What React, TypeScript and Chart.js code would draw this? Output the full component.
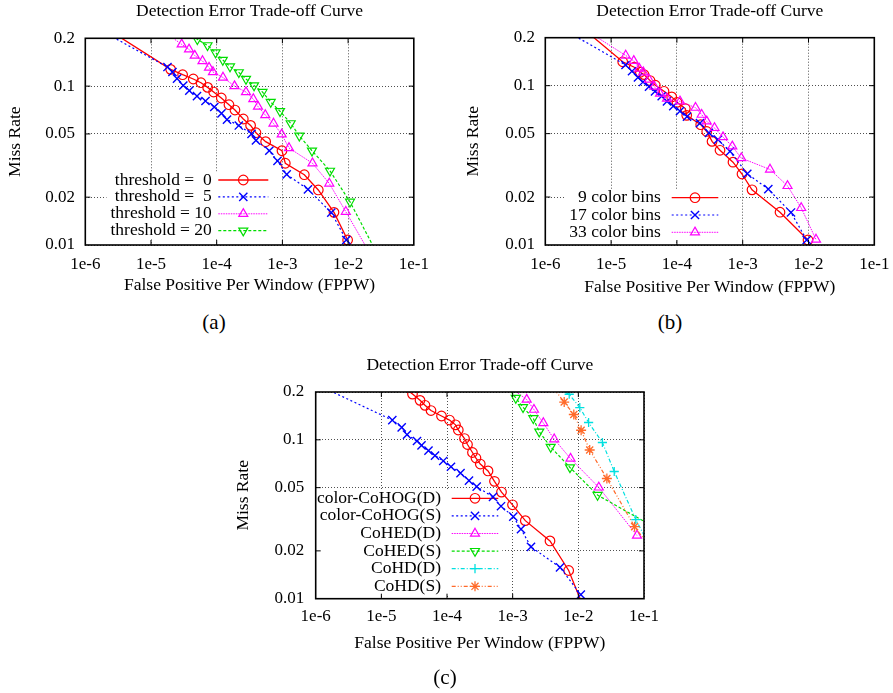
import React, { useEffect, useRef } from 'react';
import { Chart, registerables } from 'chart.js';

Chart.register(...registerables);

const FONT = 'Liberation Serif';

// ---------- shared axis text ----------
const titleText = 'Detection Error Trade-off Curve';
const xTitleText = 'False Positive Per Window (FPPW)';
const yTitleText = 'Miss Rate';
const xTickValues = [1e-6, 1e-5, 1e-4, 1e-3, 1e-2, 1e-1];
const xTickLabels = ['1e-6', '1e-5', '1e-4', '1e-3', '1e-2', '1e-1'];
const yTickValues = [0.01, 0.02, 0.05, 0.1, 0.2];
const yTickLabels = ['0.01', '0.02', '0.05', '0.1', '0.2'];
const xMin = 1e-6;
const xMax = 1e-1;
const yMin = 0.01;
const yMax = 0.2;

// ---------- (a) thresholds ----------
const aLabels = ['threshold =  0', 'threshold =  5', 'threshold = 10', 'threshold = 20'];
const aT0X = [1.52e-6, 1.99e-5, 3.03e-5, 4.4e-5, 5.76e-5, 7.28e-5, 8.98e-5, 1.175e-4, 1.537e-4, 1.897e-4, 2.54e-4, 3.28e-4, 3.96e-4, 5.56e-4, 9.85e-4, 1.107e-3, 2.155e-3, 3.52e-3, 6.1e-3, 9.84e-3];
const aT0Y = [0.2506, 0.1275, 0.118, 0.1109, 0.1051, 0.0982, 0.0918, 0.0842, 0.0764, 0.0707, 0.0621, 0.0566, 0.0509, 0.0447, 0.0392, 0.0327, 0.0277, 0.0222, 0.01605, 0.01075];
const aT5X = [1.14e-6, 1.78e-5, 2.12e-5, 2.49e-5, 3.1e-5, 3.83e-5, 5.01e-5, 6.75e-5, 9.19e-5, 1.183e-4, 1.435e-4, 2.17e-4, 3.39e-4, 3.96e-4, 6.32e-4, 8.42e-4, 1.163e-3, 2.45e-3, 5.55e-3, 9.39e-3];
const aT5Y = [0.246, 0.1319, 0.1227, 0.1116, 0.1009, 0.0938, 0.0866, 0.0806, 0.0739, 0.0673, 0.0616, 0.0565, 0.05, 0.0455, 0.0392, 0.0338, 0.0278, 0.0224, 0.016, 0.01075];
const aT10X = [1.4e-5, 2.93e-5, 3.79e-5, 4.63e-5, 6.08e-5, 7.64e-5, 8.78e-5, 1.247e-4, 1.866e-4, 2.79e-4, 3.61e-4, 4.25e-4, 5.49e-4, 7.32e-4, 9.76e-4, 1.26e-3, 2.87e-3, 5.17e-3, 9.23e-3, 2.215e-2];
const aT10Y = [0.2278, 0.1832, 0.1704, 0.1558, 0.1439, 0.1309, 0.1227, 0.1133, 0.1001, 0.0918, 0.083, 0.0744, 0.0658, 0.0582, 0.0497, 0.0408, 0.0327, 0.0244, 0.0162, 0.00865];
const aT20X = [3.53e-5, 5.07e-5, 7.24e-5, 9.59e-5, 1.238e-4, 1.594e-4, 2.17e-4, 2.79e-4, 3.7e-4, 4.98e-4, 6.64e-4, 9.19e-4, 1.337e-3, 1.808e-3, 2.82e-3, 5.3e-3, 1.069e-2, 2.99e-2];
const aT20Y = [0.215, 0.197, 0.1806, 0.1627, 0.146, 0.1328, 0.1221, 0.1109, 0.1009, 0.0918, 0.0794, 0.0695, 0.0583, 0.0487, 0.0392, 0.0293, 0.0187, 0.00828];

// ---------- (b) color bins ----------
const bLabels = ['9 color bins', '17 color bins', '33 color bins'];
const b9X = [2.84e-6, 1.5e-5, 2.25e-5, 2.78e-5, 3.16e-5, 3.9e-5, 4.7e-5, 6.37e-5, 8.34e-5, 1.003e-4, 1.342e-4, 1.41e-4, 2.3e-4, 2.84e-4, 3.42e-4, 4.52e-4, 7.12e-4, 9.76e-4, 1.385e-3, 3.69e-3, 9.83e-3];
const b9Y = [0.2513, 0.1412, 0.1305, 0.1214, 0.1174, 0.1077, 0.1006, 0.0922, 0.085, 0.0786, 0.0718, 0.0651, 0.0569, 0.0516, 0.0447, 0.0393, 0.0331, 0.0279, 0.0222, 0.01606, 0.01075];
const b17X = [1.08e-6, 1.655e-5, 2.08e-5, 2.56e-5, 3.05e-5, 3.77e-5, 4.65e-5, 5.87e-5, 7.07e-5, 8.81e-5, 1.114e-4, 1.424e-4, 2.24e-4, 3.07e-4, 4.21e-4, 6.41e-4, 1.174e-3, 2.45e-3, 5.42e-3, 9.39e-3];
const b17Y = [0.2576, 0.1348, 0.1232, 0.1125, 0.1054, 0.0987, 0.0922, 0.0858, 0.0797, 0.0744, 0.0692, 0.0639, 0.0582, 0.0505, 0.0458, 0.0387, 0.028, 0.0224, 0.016, 0.01075];
const b33X = [3.29e-6, 1.667e-5, 2.21e-5, 2.68e-5, 3.09e-5, 3.77e-5, 4.53e-5, 5.54e-5, 7.07e-5, 1.114e-4, 1.918e-4, 2.38e-4, 2.84e-4, 3.73e-4, 5.02e-4, 6.95e-4, 9.52e-4, 2.6e-3, 4.8e-3, 7.75e-3, 1.3e-2];
const b33Y = [0.2365, 0.1547, 0.1432, 0.1281, 0.1214, 0.1093, 0.0987, 0.0892, 0.083, 0.0797, 0.0728, 0.0658, 0.0597, 0.0543, 0.0476, 0.0416, 0.0351, 0.0298, 0.0235, 0.0171, 0.01083];

// ---------- (c) methods ----------
const cLabels = ['color-CoHOG(D)', 'color-CoHOG(S)', 'CoHED(D)', 'CoHED(S)', 'CoHD(D)', 'CoHD(S)'];
const cCoHOGDX = [1.92e-5, 2.98e-5, 3.88e-5, 4.62e-5, 5.7e-5, 8.24e-5, 1.091e-4, 1.346e-4, 1.485e-4, 1.846e-4, 2.05e-4, 2.44e-4, 2.76e-4, 3.21e-4, 4.21e-4, 5.28e-4, 6.76e-4, 9.94e-4, 1.557e-3, 3.7e-3, 7.13e-3, 1.149e-2];
const cCoHOGDY = [0.2245, 0.1941, 0.1772, 0.1649, 0.1529, 0.1412, 0.1332, 0.1243, 0.1153, 0.1019, 0.0934, 0.0832, 0.0768, 0.0704, 0.0637, 0.0548, 0.0469, 0.039, 0.031, 0.0231, 0.01505, 0.00922];
const cCoHOGSX = [8.1e-7, 1.468e-5, 2.04e-5, 2.46e-5, 3.49e-5, 4.09e-5, 5.22e-5, 6.56e-5, 8.77e-5, 1.149e-4, 1.605e-4, 2.16e-4, 2.83e-4, 5.02e-4, 6.64e-4, 1.022e-3, 1.339e-3, 1.9e-3, 5.26e-3, 1.09e-2];
const cCoHOGSY = [0.2338, 0.1332, 0.1199, 0.1077, 0.0983, 0.0923, 0.0854, 0.0796, 0.0736, 0.0677, 0.0618, 0.0554, 0.0507, 0.0437, 0.0382, 0.0329, 0.0274, 0.0212, 0.01576, 0.0106];
const cCoHEDDX = [9.1e-4, 1.635e-3, 2.11e-3, 2.93e-3, 4.29e-3, 7.6e-3, 2.05e-2, 7.82e-2];
const cCoHEDDY = [0.214, 0.1793, 0.1549, 0.1276, 0.1009, 0.0762, 0.0502, 0.025];
const cCoHEDSX = [8.49e-4, 1.115e-3, 1.437e-3, 2.06e-3, 2.54e-3, 3.79e-3, 7.46e-3, 1.96e-2, 1.405e-1];
const cCoHEDSY = [0.2134, 0.1833, 0.1602, 0.1366, 0.1125, 0.0901, 0.067, 0.0449, 0.02835];
const cCoHDDX = [4.67e-3, 7.26e-3, 1.052e-2, 1.433e-2, 2.325e-2, 3.52e-2, 7.5e-2, 1.155e-1];
const cCoHDDY = [0.2103, 0.1936, 0.1597, 0.1285, 0.0962, 0.0632, 0.0315, 0.0225];
const cCoHDSX = [4.11e-3, 6.09e-3, 8.53e-3, 1.102e-2, 1.489e-2, 2.72e-2, 7.19e-2, 1.234e-1];
const cCoHDSY = [0.2134, 0.1729, 0.1443, 0.1149, 0.0863, 0.0571, 0.0284, 0.02115];

// ---------- styles ----------
type SeriesStyle = {
  color: string;
  width: number;
  dash: number[];
  point: string;
  radius: number;
  rotation: number;
  pointWidth: number;
};
const sRed: SeriesStyle = { color: '#ff0000', width: 1.3, dash: [], point: 'circle', radius: 4.8, rotation: 0, pointWidth: 1.2 };
const sBlue: SeriesStyle = { color: '#0000ff', width: 1.2, dash: [2, 2.5], point: 'crossRot', radius: 5.8, rotation: 0, pointWidth: 1.4 };
const sMagenta: SeriesStyle = { color: '#ff00ff', width: 1, dash: [1.5, 1], point: 'triangle', radius: 5.2, rotation: 0, pointWidth: 1.2 };
const sGreen: SeriesStyle = { color: '#00dd00', width: 1.2, dash: [3, 2], point: 'triangle', radius: 5.2, rotation: 180, pointWidth: 1.2 };
const sCyan: SeriesStyle = { color: '#00e0e0', width: 1.2, dash: [4, 2, 1, 2], point: 'cross', radius: 4.6, rotation: 0, pointWidth: 1.3 };
const sOrange: SeriesStyle = { color: '#ff6a2a', width: 1.2, dash: [4, 2, 1, 2, 1, 2], point: 'star', radius: 5, rotation: 0, pointWidth: 1.3 };

type Series = { label: string; xs: number[]; ys: number[]; style: SeriesStyle };
type PanelCfg = {
  left: number; top: number; w: number; h: number;
  plotLeft: number; plotRight: number; plotBottom: number;
  titlePadTop: number; titlePadBottom: number;
  xTickPad: number; yTickPad: number; xTitlePad: number; yTitlePad: number;
  legend: { textRight: number; sampleLeft: number; sampleRight: number; firstRow: number; rowStep: number };
  series: Series[];
};

const panels: PanelCfg[] = [
  {
    left: 0, top: 0, w: 430, h: 300,
    plotLeft: 85.3, plotRight: 413.8, plotBottom: 245,
    titlePadTop: 1.2, titlePadBottom: 16.1,
    xTickPad: 9.8, yTickPad: 10.3, xTitlePad: 4, yTitlePad: 4.5,
    legend: { textRight: 211.7, sampleLeft: 218.3, sampleRight: 268.3, firstRow: 180, rowStep: 16.9 },
    series: [
      { label: aLabels[0], xs: aT0X, ys: aT0Y, style: sRed },
      { label: aLabels[1], xs: aT5X, ys: aT5Y, style: sBlue },
      { label: aLabels[2], xs: aT10X, ys: aT10Y, style: sMagenta },
      { label: aLabels[3], xs: aT20X, ys: aT20Y, style: sGreen },
    ],
  },
  {
    left: 440, top: 0, w: 453, h: 300,
    plotLeft: 105.3, plotRight: 434.3, plotBottom: 245,
    titlePadTop: 1.2, titlePadBottom: 15.5,
    xTickPad: 9.8, yTickPad: 10.3, xTitlePad: 2.5, yTitlePad: 22.8,
    legend: { textRight: 220.7, sampleLeft: 231.7, sampleRight: 278.3, firstRow: 197.7, rowStep: 17.3 },
    series: [
      { label: bLabels[0], xs: b9X, ys: b9Y, style: sRed },
      { label: bLabels[1], xs: b17X, ys: b17Y, style: sBlue },
      { label: bLabels[2], xs: b33X, ys: b33Y, style: sMagenta },
    ],
  },
  {
    left: 230, top: 350, w: 430, h: 320,
    plotLeft: 85.7, plotRight: 414, plotBottom: 248.7,
    titlePadTop: 4.8, titlePadBottom: 16.2,
    xTickPad: 8, yTickPad: 11.5, xTitlePad: 16.2, yTitlePad: 2.8,
    legend: { textRight: 211, sampleLeft: 221.7, sampleRight: 268.3, firstRow: 148.3, rowStep: 17.6 },
    series: [
      { label: cLabels[0], xs: cCoHOGDX, ys: cCoHOGDY, style: sRed },
      { label: cLabels[1], xs: cCoHOGSX, ys: cCoHOGSY, style: sBlue },
      { label: cLabels[2], xs: cCoHEDDX, ys: cCoHEDDY, style: sMagenta },
      { label: cLabels[3], xs: cCoHEDSX, ys: cCoHEDSY, style: sGreen },
      { label: cLabels[4], xs: cCoHDDX, ys: cCoHDDY, style: sCyan },
      { label: cLabels[5], xs: cCoHDSX, ys: cCoHDSY, style: sOrange },
    ],
  },
];

const captions = [
  { text: '(a)', x: 214, y: 322 },
  { text: '(b)', x: 670, y: 322 },
  { text: '(c)', x: 445, y: 677 },
];

// ---------- drawing helpers ----------
function drawMarker(ctx: CanvasRenderingContext2D, style: string, x: number, y: number, r: number, rotDeg: number) {
  ctx.beginPath();
  if (style === 'circle') {
    ctx.arc(x, y, r, 0, Math.PI * 2);
  } else if (style === 'triangle') {
    let a = (rotDeg * Math.PI) / 180;
    ctx.moveTo(x + Math.sin(a) * r, y - Math.cos(a) * r);
    a += (2 * Math.PI) / 3;
    ctx.lineTo(x + Math.sin(a) * r, y - Math.cos(a) * r);
    a += (2 * Math.PI) / 3;
    ctx.lineTo(x + Math.sin(a) * r, y - Math.cos(a) * r);
    ctx.closePath();
  } else {
    const o = Math.cos(Math.PI / 4) * r;
    if (style === 'cross' || style === 'star') {
      ctx.moveTo(x, y - r); ctx.lineTo(x, y + r);
      ctx.moveTo(x - r, y); ctx.lineTo(x + r, y);
    }
    if (style === 'crossRot' || style === 'star') {
      ctx.moveTo(x - o, y - o); ctx.lineTo(x + o, y + o);
      ctx.moveTo(x - o, y + o); ctx.lineTo(x + o, y - o);
    }
  }
  ctx.stroke();
}

const legendPlugin = {
  id: 'gnuLegend',
  beforeDatasetsDraw(chart: any, _args: any, opts: any) {
    if (!opts || opts.textRight == null) return;
    const ctx: CanvasRenderingContext2D = chart.ctx;
    const ds = chart.data.datasets as any[];
    ctx.save();
    ctx.font = `17.5px "${FONT}"`;
    let maxW = 0;
    ds.forEach((d) => { maxW = Math.max(maxW, ctx.measureText(d.label).width); });
    const boxTop = opts.firstRow - opts.rowStep / 2;
    const boxLeft = opts.textRight - maxW - 4;
    ctx.fillStyle = '#ffffff';
    ctx.fillRect(boxLeft, boxTop, opts.sampleRight + 4 - boxLeft, opts.rowStep * ds.length);
    ds.forEach((d, i) => {
      const y = opts.firstRow + i * opts.rowStep;
      ctx.fillStyle = '#000000';
      ctx.textAlign = 'right';
      ctx.textBaseline = 'middle';
      ctx.fillText(d.label, opts.textRight, y);
      ctx.strokeStyle = d.borderColor;
      ctx.lineWidth = d.borderWidth;
      ctx.setLineDash(d.borderDash || []);
      ctx.beginPath();
      ctx.moveTo(opts.sampleLeft, y);
      ctx.lineTo(opts.sampleRight, y);
      ctx.stroke();
      ctx.setLineDash([]);
      ctx.lineWidth = d.pointBorderWidth;
      drawMarker(ctx, d.pointStyle, (opts.sampleLeft + opts.sampleRight) / 2, y, d.markerRadius, d.pointRotation || 0);
    });
    ctx.restore();
  },
};

const framePlugin = {
  id: 'gnuFrame',
  afterDatasetsDraw(chart: any) {
    const { ctx, chartArea: a, scales } = chart;
    ctx.save();
    ctx.setLineDash([]);
    ctx.strokeStyle = '#000000';
    ctx.lineWidth = 1;
    const tl = 5;
    ctx.beginPath();
    for (const t of scales.x.ticks) {
      const px = scales.x.getPixelForValue(t.value);
      if (px <= a.left + 1 || px >= a.right - 1) continue;
      ctx.moveTo(px, a.bottom); ctx.lineTo(px, a.bottom - tl);
      ctx.moveTo(px, a.top); ctx.lineTo(px, a.top + tl);
    }
    for (const t of scales.y.ticks) {
      const py = scales.y.getPixelForValue(t.value);
      if (py <= a.top + 1 || py >= a.bottom - 1) continue;
      ctx.moveTo(a.left, py); ctx.lineTo(a.left + tl, py);
      ctx.moveTo(a.right, py); ctx.lineTo(a.right - tl, py);
    }
    ctx.stroke();
    ctx.lineWidth = 1.6;
    ctx.strokeRect(a.left, a.top, a.right - a.left, a.bottom - a.top);
    ctx.restore();
  },
};

function inRange(v: any) {
  return v && v.x >= xMin && v.x <= xMax && v.y >= yMin && v.y <= yMax;
}

function buildConfig(p: PanelCfg): any {
  const n = p.series.length;
  const datasets = p.series.map((s, i) => ({
    label: s.label,
    data: s.xs.map((x, j) => ({ x, y: s.ys[j] })),
    borderColor: s.style.color,
    borderWidth: s.style.width,
    borderDash: s.style.dash,
    pointStyle: s.style.point,
    pointRotation: s.style.rotation,
    pointBorderColor: s.style.color,
    pointBackgroundColor: 'rgba(0,0,0,0)',
    pointBorderWidth: s.style.pointWidth,
    pointRadius: (ctx: any) => (inRange(ctx.raw) ? s.style.radius : 0),
    pointHoverRadius: 0,
    markerRadius: s.style.radius,
    fill: false,
    tension: 0,
    clip: 0,
    order: n - i,
  }));
  const tickFont = { family: FONT, size: 17 };
  const textFont = { family: FONT, size: 17.5, weight: 'normal' };
  return {
    type: 'line',
    data: { datasets },
    plugins: [legendPlugin, framePlugin],
    options: {
      animation: false,
      responsive: false,
      devicePixelRatio: 1,
      events: [],
      layout: { padding: { left: 0, top: 0, bottom: 0, right: p.w - p.plotRight } },
      plugins: {
        legend: { display: false },
        tooltip: { enabled: false },
        title: {
          display: true,
          text: titleText,
          color: '#000000',
          font: textFont,
          fullSize: false,
          padding: { top: p.titlePadTop, bottom: p.titlePadBottom },
        },
        gnuLegend: p.legend,
      },
      scales: {
        x: {
          type: 'logarithmic',
          position: 'bottom',
          min: xMin,
          max: xMax,
          afterBuildTicks: (s: any) => { s.ticks = xTickValues.map((v) => ({ value: v })); },
          afterFit: (s: any) => { s.height = p.h - p.plotBottom; s.paddingLeft = 0; s.paddingRight = 0; },
          ticks: {
            autoSkip: false, maxRotation: 0, minRotation: 0,
            padding: p.xTickPad, color: '#000000', font: tickFont,
            callback: (v: number) => xTickLabels[xTickValues.indexOf(v)] ?? '',
          },
          grid: { color: '#505050', lineWidth: 1, drawTicks: false },
          border: { display: false, dash: [1, 2] },
          title: { display: true, text: xTitleText, color: '#000000', font: textFont, padding: { top: 0, bottom: p.xTitlePad } },
        },
        y: {
          type: 'logarithmic',
          position: 'left',
          min: yMin,
          max: yMax,
          afterBuildTicks: (s: any) => { s.ticks = yTickValues.map((v) => ({ value: v })); },
          afterFit: (s: any) => { s.width = p.plotLeft; s.paddingTop = 0; s.paddingBottom = 0; },
          ticks: {
            autoSkip: false,
            padding: p.yTickPad, color: '#000000', font: tickFont,
            callback: (v: number) => yTickLabels[yTickValues.indexOf(v)] ?? '',
          },
          grid: { color: '#505050', lineWidth: 1, drawTicks: false },
          border: { display: false, dash: [1, 2] },
          title: { display: true, text: yTitleText, color: '#000000', font: textFont, padding: { top: p.yTitlePad, bottom: 0 } },
        },
      },
    },
  };
}

function Panel({ p }: { p: PanelCfg }) {
  const ref = useRef<HTMLCanvasElement | null>(null);
  useEffect(() => {
    if (!ref.current) return;
    const chart = new Chart(ref.current, buildConfig(p));
    return () => chart.destroy();
  }, [p]);
  return (
    <canvas
      ref={ref}
      width={p.w}
      height={p.h}
      style={{ position: 'absolute', left: p.left, top: p.top, width: p.w, height: p.h }}
    />
  );
}

export default function App() {
  return (
    <div style={{ position: 'absolute', left: 0, top: 0, width: 893, height: 693, overflow: 'hidden', background: '#ffffff' }}>
      {panels.map((p, i) => (
        <Panel key={i} p={p} />
      ))}
      {captions.map((c) => (
        <div
          key={c.text}
          style={{
            position: 'absolute', left: c.x, top: c.y, transform: 'translate(-50%, -50%)',
            fontFamily: `"${FONT}", serif`, fontSize: 21, color: '#000', lineHeight: 1, whiteSpace: 'nowrap',
          }}
        >
          {c.text}
        </div>
      ))}
    </div>
  );
}
